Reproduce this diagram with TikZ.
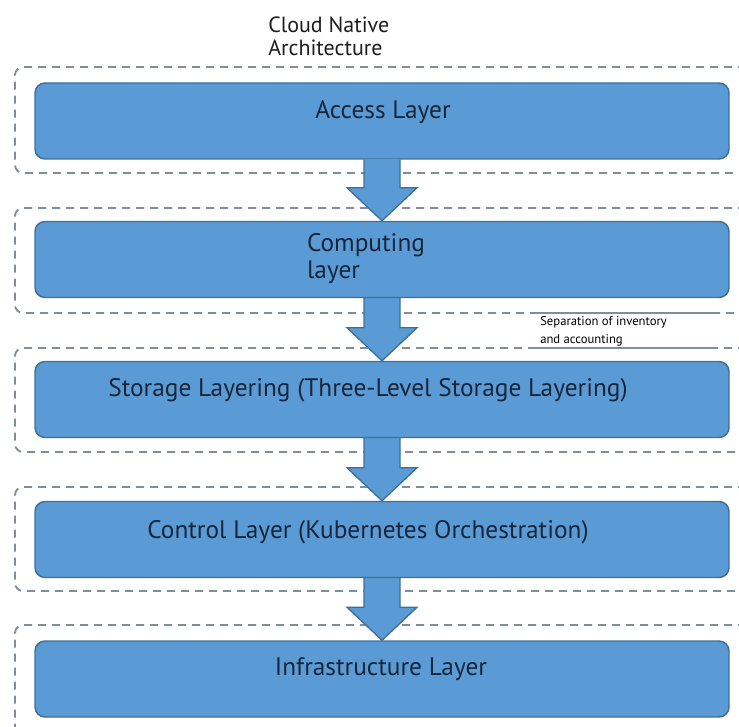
\documentclass[tikz,border=0pt]{standalone}
\usepackage{fontspec}
\setmainfont{PT Sans}
\usetikzlibrary{calc,backgrounds}
\definecolor{boxfill}{HTML}{5B9BD5}
\definecolor{boxline}{HTML}{3F6E98}
\definecolor{txt}{HTML}{17263A}
\definecolor{dashc}{HTML}{7F8E9B}
\definecolor{titlec}{HTML}{1E1E1E}
\begin{document}
\begin{tikzpicture}[x=0.75pt,y=-0.75pt,
  container/.style={draw=dashc, line width=1.4pt, dash pattern=on 6pt off 4.5pt, rounded corners=6pt},
  layer/.style={draw=boxline, fill=boxfill, line width=1.1pt, rounded corners=7.5pt,
                minimum width=520.5pt, minimum height=57pt, inner sep=0pt},
  ltext/.style={text=txt, font=\fontsize{19}{20.25}\selectfont, inner sep=0pt},
  flow/.style={draw=boxline, fill=boxfill, line width=1pt, line join=miter},
  note/.style={text=black, font=\fontsize{9.5}{13.5}\selectfont, inner sep=0pt, align=left, anchor=west}
]
\useasboundingbox (0,0) rectangle (739,727);
\clip (0,0) rectangle (739,727);

% layer boxes
\node[layer] (acc)   at (382,121)   {};
\node[layer] (comp)  at (382,259.5) {};
\node[layer] (stor)  at (382,399.5) {};
\node[layer] (ctrl)  at (382,539.5) {};
\node[layer] (infra) at (382,679)   {};

% texts
\node[text=titlec, font=\fontsize{16.5}{17.25}\selectfont, inner sep=0pt, align=left, anchor=west] (title) at (268,36) {Cloud Native\\Architecture};
\node[ltext] (accT) at (383,112) {Access Layer};
\node[ltext, align=left] (compT) at (366,259) {Computing\\layer};
\node[ltext] (storT) at (368,390) {Storage Layering (Three-Level Storage Layering)};
\node[ltext] (ctrlT) at (368,532) {Control Layer (Kubernetes Orchestration)};
\node[ltext] (infraT) at (381,669) {Infrastructure Layer};
\node[note] (sep) at (540,331) {Separation of inventory\\and accounting};

\begin{scope}[on background layer]
  \draw[container] (760,67)  -- (15,67)  -- (15,173) -- (760,173);
  \draw[container] (760,208) -- (15,208) -- (15,313) -- (760,313);
  \draw[container] (760,348) -- (15,348) -- (15,452) -- (760,452);
  \draw[container] (760,487) -- (15,487) -- (15,591) -- (760,591);
  \draw[container] (760,625) -- (15,625) -- (15,760);
  \draw[dashc, line width=1.2pt] (536,313) -- (712,313);
  \draw[dashc, line width=1.2pt] (536,348) -- (712,348);
  \foreach \a/\b in {acc/comp, comp/stor, stor/ctrl, ctrl/infra}{
    \filldraw[flow] ($(\a.south)+(-18,0)$) -- ($(\b.north)+(-18,-33)$) -- ($(\b.north)+(-35,-33)$)
      -- (\b.north) -- ($(\b.north)+(35,-33)$) -- ($(\b.north)+(18,-33)$) -- ($(\a.south)+(18,0)$);
  }
\end{scope}
\end{tikzpicture}
\end{document}
